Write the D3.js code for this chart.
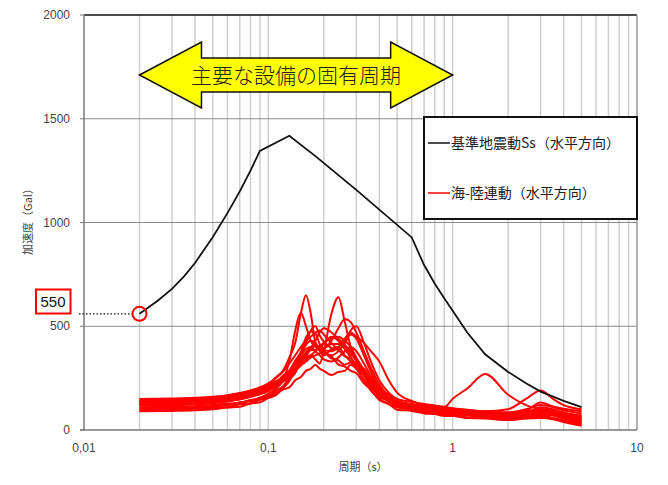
<!DOCTYPE html>
<html>
<head>
<meta charset="utf-8">
<script src="https://cdn.jsdelivr.net/npm/d3@7"></script>
<style>
  body { margin: 0; background: #fff; }
  text { font-family: "Liberation Sans", Arial, sans-serif; }
  .jp { font-family: "Noto Sans CJK JP", sans-serif; }
</style>
</head>
<body>
<div id="chart"></div>
<script>
// periods (s) shared by all red response spectra
var periods = [0.02, 0.03, 0.04, 0.05, 0.06, 0.07, 0.08, 0.09, 0.1, 0.11, 0.12, 0.13, 0.14, 0.15,
  0.16, 0.17, 0.18, 0.19, 0.2, 0.22, 0.24, 0.26, 0.28, 0.3, 0.33, 0.36, 0.4, 0.45, 0.5, 0.6,
  0.7, 0.8, 0.9, 1.0, 1.2, 1.5, 2.0, 2.5, 3.0, 3.5, 4.0, 5.0];

// 海-陸連動 (horizontal) spectra, Gal
var red1  = [140,142,145,150,160,175,182,205,215,255,285,350,420,560,650,560,420,380,360,390,400,360,330,300,240,210,160,140,115,110,100,98,88,85,80,75,70,75,85,80,70,60];
var red2  = [120,122,125,130,138,148,160,175,195,215,240,270,300,330,350,360,340,320,380,560,640,520,400,330,260,210,170,140,125,110,105,100,95,90,85,80,80,90,100,90,75,55];
var red3  = [100,102,106,112,120,130,142,155,175,200,240,330,480,565,500,430,400,390,420,450,430,390,350,300,240,190,150,125,110,100,95,90,88,85,80,72,65,70,80,70,55,35];
var red4  = [130,132,136,140,148,155,165,180,195,215,235,260,285,310,330,350,360,370,390,430,490,535,520,470,380,300,220,160,130,115,110,105,100,95,90,80,75,85,95,85,70,50];
var red5  = [90,92,95,100,108,112,128,134,155,168,205,235,295,345,420,480,500,455,425,395,385,355,345,315,295,245,205,155,140,118,112,98,96,88,86,74,66,60,66,54,45,30];
var red6  = [145,148,152,158,165,175,188,200,215,235,255,280,300,320,340,360,380,400,420,440,450,430,400,350,290,240,190,150,130,120,115,110,110,150,200,270,170,120,100,90,80,65];
var red7  = [110,112,115,120,128,130,145,148,165,172,195,205,240,255,285,295,315,295,285,265,280,285,315,295,265,205,175,135,125,98,92,83,82,73,72,58,56,58,72,58,46,25];
var red8  = [125,128,132,138,145,158,170,185,205,225,250,280,320,370,410,430,420,390,370,360,380,420,460,440,360,280,200,150,120,105,95,88,82,78,72,65,60,70,90,80,65,45];
var red9  = [135,138,142,148,156,166,178,192,210,230,255,285,320,360,390,400,380,360,340,330,350,380,400,380,320,260,210,170,140,125,118,110,105,100,95,90,100,150,190,150,120,100];
var red10 = [95,97,100,106,110,124,128,146,155,182,200,245,275,335,365,395,405,405,375,355,315,305,285,275,225,195,145,125,98,92,80,77,68,67,58,56,48,56,58,52,38,20];
var red11 = [150,152,155,160,168,178,190,205,225,250,280,320,360,400,430,450,470,480,460,420,390,420,480,500,420,330,240,180,150,135,125,118,112,105,98,90,85,100,120,110,95,80];
var red12 = [105,107,110,116,120,134,138,156,165,192,210,255,285,335,355,385,385,400,395,415,415,405,365,335,265,225,170,145,110,104,86,85,72,72,62,60,50,62,72,72,58,40];
var red13 = [118,120,124,130,138,148,160,172,188,208,232,262,300,340,370,395,430,470,490,470,440,410,380,340,280,230,185,150,125,110,100,92,88,84,78,70,65,80,110,100,85,70];
var red14 = [140,142,146,150,164,166,186,192,216,228,262,286,335,375,445,475,465,415,385,345,335,315,325,305,285,235,200,155,140,116,115,103,102,94,92,83,82,93,132,113,102,90];
var red15 = [128,130,134,140,148,158,170,184,200,222,248,278,310,345,375,400,410,400,385,380,400,440,470,450,420,380,330,240,180,140,120,110,102,96,90,82,75,85,100,90,75,60];
var redSeries = [red1, red2, red3, red4, red5, red6, red7, red8, red9, red10, red11, red12, red13, red14, red15];

// 基準地震動Ss (horizontal)
var ssPeriods = [0.02, 0.025, 0.03, 0.035, 0.04, 0.05, 0.06, 0.07, 0.08, 0.09, 0.13, 0.18, 0.3, 0.6, 0.65, 0.7, 0.8, 0.9, 1.0, 1.2, 1.5, 2.0, 2.5, 3.0, 4.0, 5.0];
var ssValues  = [560, 622, 680, 742, 805, 930, 1045, 1150, 1250, 1345, 1418, 1320, 1157, 928, 858, 795, 705, 635, 575, 470, 365, 280, 225, 185, 140, 110];

var yTicks = [0, 500, 1000, 1500, 2000];
var xTicks = [0.01, 0.1, 1, 10];
var xTickLabels = ["0,01", "0,1", "1", "10"];
var legendLabels = ["基準地震動Ss（水平方向）", "海-陸連動（水平方向）"];
var arrowRange = [0.02, 1];

var width = 668, height = 485;
var margin = { top: 15, right: 31, bottom: 55, left: 84 };

var svg = d3.select('#chart').append('svg')
  .attr('width', width)
  .attr('height', height);

var x = d3.scaleLog().domain([0.01, 10]).range([margin.left, width - margin.right]);
var y = d3.scaleLinear().domain([0, 2000]).range([height - margin.bottom, margin.top]);

// minor vertical grid
var minor = [];
[0.01, 0.1, 1].forEach(function (dec) {
  for (var k = 1; k <= 9; k++) if (dec * k > 0.01) minor.push(dec * k);
});
svg.append('g').selectAll('line').data(minor).enter().append('line')
  .attr('x1', d => x(d)).attr('x2', d => x(d))
  .attr('y1', y(2000)).attr('y2', y(0))
  .attr('stroke', '#cfcfcf').attr('stroke-width', 1.5);

// horizontal grid
svg.append('g').selectAll('line').data([500, 1000, 1500]).enter().append('line')
  .attr('x1', x(0.01)).attr('x2', x(10))
  .attr('y1', d => y(d)).attr('y2', d => y(d))
  .attr('stroke', '#8a8a8a').attr('stroke-width', 1);

// frame
svg.append('line').attr('x1', x(0.01)).attr('x2', x(10)).attr('y1', y(2000)).attr('y2', y(2000))
  .attr('stroke', '#111').attr('stroke-width', 1.5);
svg.append('line').attr('x1', x(10)).attr('x2', x(10)).attr('y1', y(2000)).attr('y2', y(0))
  .attr('stroke', '#999').attr('stroke-width', 1.5);
svg.append('line').attr('x1', x(0.01)).attr('x2', x(0.01)).attr('y1', y(2000)).attr('y2', y(0))
  .attr('stroke', '#777').attr('stroke-width', 1.5);
svg.append('line').attr('x1', x(0.01) - 4).attr('x2', x(10)).attr('y1', y(0)).attr('y2', y(0))
  .attr('stroke', '#777').attr('stroke-width', 1.5);
svg.append('g').selectAll('line').data(yTicks).enter().append('line')
  .attr('x1', x(0.01) - 4).attr('x2', x(0.01))
  .attr('y1', d => y(d)).attr('y2', d => y(d))
  .attr('stroke', '#777');

// tick labels
svg.append('g').selectAll('text').data(yTicks).enter().append('text')
  .attr('x', x(0.01) - 14).attr('y', d => y(d) + 4)
  .attr('text-anchor', 'end').attr('font-size', 12).attr('fill', '#444')
  .text(d => d);
svg.append('g').selectAll('text').data(xTicks).enter().append('text')
  .attr('x', d => x(d)).attr('y', y(0) + 22)
  .attr('text-anchor', 'middle').attr('font-size', 12).attr('fill', '#444')
  .text((d, i) => xTickLabels[i]);

svg.append('text').attr('class', 'jp')
  .attr('x', 363).attr('y', 471).attr('text-anchor', 'middle')
  .attr('font-size', 11).attr('fill', '#444').text('周期（s）');
svg.append('text').attr('class', 'jp')
  .attr('transform', 'translate(32,219) rotate(-90)').attr('text-anchor', 'middle')
  .attr('font-size', 11).attr('fill', '#444').text('加速度（Gal）');

// red spectra
var redLine = d3.line()
  .x((d, i) => x(periods[i]))
  .y(d => y(d))
  .curve(d3.curveMonotoneX);
svg.append('g').selectAll('path').data(redSeries).enter().append('path')
  .attr('d', redLine)
  .attr('fill', 'none').attr('stroke', '#ff0000').attr('stroke-width', 2);

// Ss spectrum
var ssLine = d3.line()
  .x((d, i) => x(ssPeriods[i]))
  .y(d => y(d));
svg.append('path').datum(ssValues)
  .attr('d', ssLine)
  .attr('fill', 'none').attr('stroke', '#111').attr('stroke-width', 1.8);

// legend
var lg = svg.append('g');
lg.append('rect').attr('x', 424).attr('y', 117).attr('width', x(10) - 424).attr('height', 102)
  .attr('fill', '#fff').attr('stroke', '#111').attr('stroke-width', 2);
var legendColors = ['#111', '#ff0000'];
legendLabels.forEach(function (lab, i) {
  var ly = 143 + i * 50;
  lg.append('line').attr('x1', 428).attr('x2', 450).attr('y1', ly).attr('y2', ly)
    .attr('stroke', legendColors[i]).attr('stroke-width', 1.5);
  lg.append('text').attr('class', 'jp').attr('x', 451).attr('y', ly + 5)
    .attr('font-size', 14).attr('fill', '#222').text(lab);
});

// double arrow: main equipment natural periods
var ax1 = x(arrowRange[0]), ax2 = x(arrowRange[1]), acy = 75;
var head = 62, hh = 33, sh = 17;
var pts = [[ax1, acy], [ax1 + head, acy - hh], [ax1 + head, acy - sh], [ax2 - head, acy - sh],
  [ax2 - head, acy - hh], [ax2, acy], [ax2 - head, acy + hh], [ax2 - head, acy + sh],
  [ax1 + head, acy + sh], [ax1 + head, acy + hh]];
svg.append('polygon').attr('points', pts.map(p => p.join(',')).join(' '))
  .attr('fill', '#ffff00').attr('stroke', '#111').attr('stroke-width', 1.5);
svg.append('text').attr('class', 'jp')
  .attr('x', (ax1 + ax2) / 2).attr('y', acy + 8).attr('text-anchor', 'middle')
  .attr('font-size', 21).attr('font-weight', 300).attr('fill', '#222').text('主要な設備の固有周期');

// 550 annotation
var sy = y(ssValues[0]), sx = x(ssPeriods[0]);
svg.append('line').attr('x1', 79).attr('x2', sx - 7).attr('y1', sy).attr('y2', sy)
  .attr('stroke', '#111').attr('stroke-width', 1.2).attr('stroke-dasharray', '1.5,2');
svg.append('ellipse').attr('cx', sx).attr('cy', sy).attr('rx', 7).attr('ry', 7)
  .attr('fill', 'none').attr('stroke', '#ff0000').attr('stroke-width', 2);
svg.append('rect').attr('x', 36).attr('y', 289.5).attr('width', 34.5).attr('height', 24)
  .attr('fill', '#fff').attr('stroke', '#ff0000').attr('stroke-width', 2);
svg.append('text').attr('x', 53).attr('y', 307).attr('text-anchor', 'middle')
  .attr('font-size', 15).attr('fill', '#111').text('550');
</script>
</body>
</html>
